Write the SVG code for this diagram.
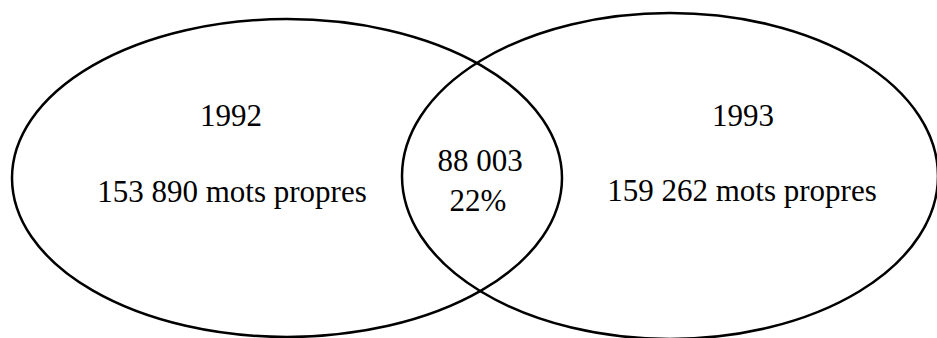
<svg xmlns="http://www.w3.org/2000/svg" width="937" height="338" viewBox="0 0 937 338">
<style>
.set{fill:none;stroke:#000;stroke-width:2.5}
.lbl{font-family:"Liberation Serif","Times New Roman",serif;font-size:31px;fill:#000;text-anchor:middle}
</style>
<rect width="937" height="338" fill="#fff"/>
<g id="set1992">
<ellipse class="set" cx="287" cy="178" rx="275" ry="159"/>
<text class="lbl" x="231" y="126">1992</text>
<text class="lbl" x="232" y="202">153 890 mots propres</text>
</g>
<g id="set1993">
<ellipse class="set" cx="670" cy="176" rx="268" ry="163"/>
<text class="lbl" x="743" y="126">1993</text>
<text class="lbl" x="742" y="201">159 262 mots propres</text>
</g>
<g id="intersection">
<text class="lbl" x="480" y="171">88 003</text>
<text class="lbl" x="478" y="211">22%</text>
</g>
<g id="connectors"/>
</svg>
